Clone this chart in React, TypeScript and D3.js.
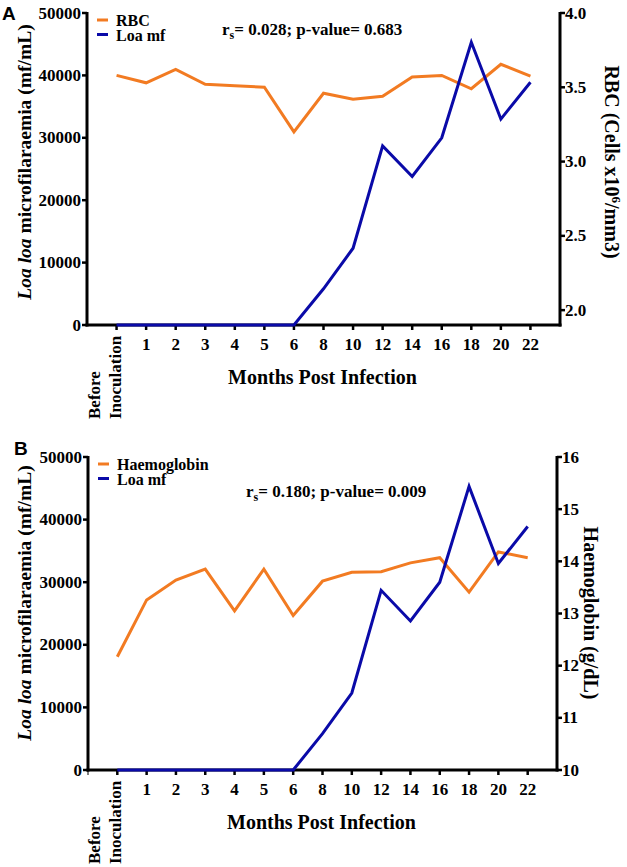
import React from "react";
import * as d3 from "d3";

const categories = ["Before Inoculation", "1", "2", "3", "4", "5", "6", "8", "10", "12", "14", "16", "18", "20", "22"];
const loaMf = [0, 0, 0, 0, 0, 0, 0, 5800, 12300, 28700, 23800, 30000, 45300, 33000, 38900];
const rbc = [3.58, 3.53, 3.62, 3.52, 3.51, 3.5, 3.2, 3.46, 3.42, 3.44, 3.57, 3.58, 3.49, 3.655, 3.575];
const hb = [12.17, 13.26, 13.64, 13.85, 13.05, 13.85, 12.96, 13.62, 13.79, 13.8, 13.97, 14.07, 13.41, 14.18, 14.07];
const leftTicks = [0, 10000, 20000, 30000, 40000, 50000];
const rbcTicks = [2.0, 2.5, 3.0, 3.5, 4.0];
const hbTicks = [10, 11, 12, 13, 14, 15, 16];

const ORANGE = "#F27B22";
const BLUE = "#0A0AA8";
const SERIF = "'Liberation Serif', 'Times New Roman', serif";
const SANS = "'Liberation Sans', Arial, sans-serif";

type PanelProps = {
  letter: string;
  letterX: number;
  letterY: number;
  left: number;
  right: number;
  top: number;
  bottom: number;
  rightDomain: [number, number];
  rightTicks: number[];
  rightFmt: (v: number) => string;
  rightValues: number[];
  legendLabel: string;
  stats: [string, string];
  statsX: number;
  statsY: number;
  rightTitle: React.ReactNode;
  rightTitleX: number;
  leftTitleY: number;
  rightTitleY: number;
  extraTick?: boolean;
};

function Panel(p: PanelProps) {
  const x = d3.scalePoint<string>().domain(categories).range([p.left, p.right]).padding(1);
  const yL = d3.scaleLinear().domain([0, 50000]).range([p.bottom, p.top]);
  const yR = d3.scaleLinear().domain(p.rightDomain).range([p.bottom, p.top]);
  const lineL = d3.line<number>().x((_, i) => x(categories[i]) as number).y((d) => yL(d));
  const lineR = d3.line<number>().x((_, i) => x(categories[i]) as number).y((d) => yR(d));
  const fs = 17;
  const midX = (p.left + p.right) / 2;
  return (
    <g>
      <text x={p.letterX} y={p.letterY} fontFamily={SANS} fontWeight="bold" fontSize={19}>{p.letter}</text>
      {/* left axis */}
      <line x1={p.left} x2={p.left} y1={p.top - 1} y2={p.bottom + 1.5} stroke="#000" strokeWidth={3} />
      {leftTicks.map((t) => (
        <g key={"l" + t}>
          <line x1={p.left - 5} x2={p.left} y1={yL(t)} y2={yL(t)} stroke="#000" strokeWidth={2.5} />
          <text x={p.left - 6} y={yL(t) + 5.5} textAnchor="end" fontFamily={SERIF} fontWeight="bold" fontSize={fs}>{t}</text>
        </g>
      ))}
      {/* right axis */}
      <line x1={p.right} x2={p.right} y1={p.top - 1} y2={p.bottom + 1.5} stroke="#000" strokeWidth={3} />
      {p.rightTicks.map((t) => (
        <g key={"r" + t}>
          <line x1={p.right} x2={p.right + 5} y1={yR(t)} y2={yR(t)} stroke="#000" strokeWidth={2.5} />
          <text x={p.right + 5} y={yR(t) + 5.5} textAnchor="start" fontFamily={SERIF} fontWeight="bold" fontSize={fs}>{p.rightFmt(t)}</text>
        </g>
      ))}
      {/* x axis */}
      <line x1={p.left - 1.5} x2={p.right + 1.5} y1={p.bottom} y2={p.bottom} stroke="#000" strokeWidth={3} />
      {p.extraTick && <line x1={p.left} x2={p.left} y1={p.bottom} y2={p.bottom + 5} stroke="#000" strokeWidth={1} />}
      {categories.map((c, i) => (
        <g key={"x" + c}>
          <line x1={x(c)} x2={x(c)} y1={p.bottom} y2={p.bottom + 5} stroke="#000" strokeWidth={2.5} />
          {i > 0 && (
            <text x={x(c)} y={p.bottom + 25} textAnchor="middle" fontFamily={SERIF} fontWeight="bold" fontSize={fs}>{c}</text>
          )}
        </g>
      ))}
      {(() => {
        const cx = x(categories[0]) as number;
        const words = categories[0].split(" ");
        const y0 = p.bottom + 94;
        return (
          <g fontFamily={SERIF} fontWeight="bold" fontSize={fs}>
            <text transform={`translate(${cx - 17},${y0}) rotate(-90)`} textAnchor="start">{words[0]}</text>
            <text transform={`translate(${cx + 4},${y0}) rotate(-90)`} textAnchor="start">{words[1]}</text>
          </g>
        );
      })()}
      <text x={midX - 1} y={p.bottom + 59} textAnchor="middle" fontFamily={SERIF} fontWeight="bold" fontSize={20}>Months Post Infection</text>
      {/* left title */}
      <text transform={`translate(31,${p.leftTitleY}) rotate(-90)`} textAnchor="middle" fontFamily={SERIF} fontWeight="bold" fontSize={19.5}>
        <tspan fontStyle="italic">Loa loa</tspan> microfilaraemia (mf/mL)
      </text>
      {/* right title */}
      <text transform={`translate(${p.rightTitleX},${p.rightTitleY}) rotate(90)`} textAnchor="middle" fontFamily={SERIF} fontWeight="bold" fontSize={20}>
        {p.rightTitle}
      </text>
      {/* legend */}
      <g fontFamily={SERIF} fontWeight="bold" fontSize={16}>
        <line x1={p.left + 10} x2={p.left + 21} y1={p.top + 7} y2={p.top + 7} stroke={ORANGE} strokeWidth={3} />
        <text x={p.left + 29} y={p.top + 12.5}>{p.legendLabel}</text>
        <line x1={p.left + 10} x2={p.left + 21} y1={p.top + 21.5} y2={p.top + 21.5} stroke={BLUE} strokeWidth={3} />
        <text x={p.left + 29} y={p.top + 27.5}>Loa mf</text>
      </g>
      <text x={p.statsX} y={p.statsY} fontFamily={SERIF} fontWeight="bold" fontSize={fs}>
        r<tspan dy={4} fontSize={12}>s</tspan><tspan dy={-4}>{p.stats[0]}; p-value= {p.stats[1]}</tspan>
      </text>
      {/* series */}
      <path d={lineR(p.rightValues) || ""} fill="none" stroke={ORANGE} strokeWidth={3} strokeLinejoin="miter" />
      <path d={lineL(loaMf) || ""} fill="none" stroke={BLUE} strokeWidth={3} strokeLinejoin="miter" />
    </g>
  );
}

export default function App() {
  return (
    <svg width={627} height={867} style={{ position: "absolute", left: 0, top: 0, background: "#fff" }}>
      <rect width={627} height={867} fill="#fff" />
      <Panel
        letter="A"
        letterX={2}
        letterY={20}
        left={87}
        right={560}
        top={13}
        bottom={325}
        rightDomain={[1.9, 4.0]}
        rightTicks={rbcTicks}
        rightFmt={(v) => v.toFixed(1)}
        rightValues={rbc}
        legendLabel="RBC"
        stats={["= 0.028", "0.683"]}
        statsX={222}
        statsY={35}
        rightTitle={<>RBC (Cells x10<tspan dy={-7} fontSize={13}>6</tspan><tspan dy={7}>/mm3)</tspan></>}
        rightTitleX={605}
        leftTitleY={162}
        rightTitleY={162}
      />
      <Panel
        letter="B"
        letterX={14}
        letterY={455}
        left={88}
        right={557}
        top={457}
        bottom={770}
        rightDomain={[10, 16]}
        rightTicks={hbTicks}
        rightFmt={(v) => String(v)}
        rightValues={hb}
        legendLabel="Haemoglobin"
        stats={["= 0.180", "0.009"]}
        statsX={246}
        statsY={497}
        rightTitle={<>Haemoglobin (g/dL)</>}
        rightTitleX={584}
        leftTitleY={603}
        rightTitleY={613}
        extraTick={true}
      />
    </svg>
  );
}
